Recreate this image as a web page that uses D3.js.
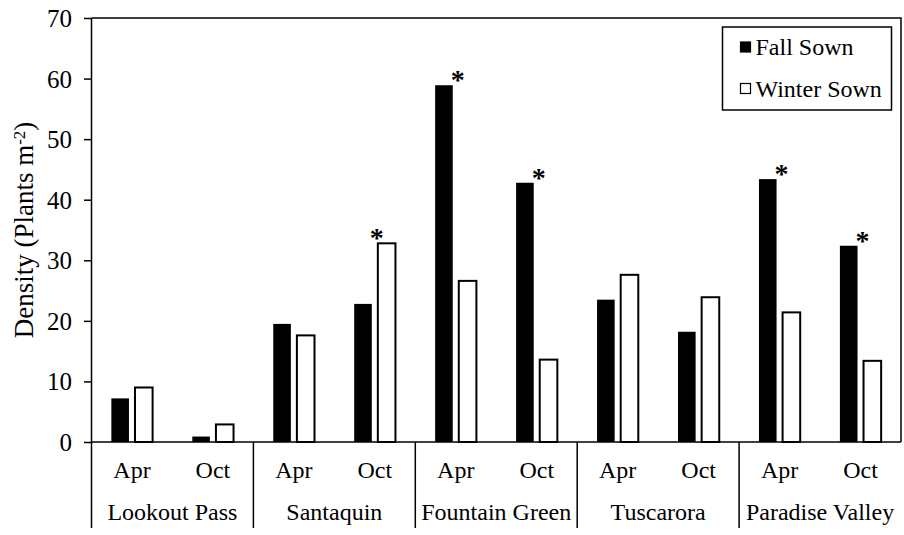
<!DOCTYPE html>
<html>
<head>
<meta charset="utf-8">
<script src="https://cdn.jsdelivr.net/npm/d3@7"></script>
<style>
  body { margin: 0; background: #fff; }
  svg text { font-family: "Liberation Serif", "Times New Roman", serif; fill: #000; }
</style>
</head>
<body>
<div id="chart"></div>
<script>
// values
const sites = ['Lookout Pass', 'Santaquin', 'Fountain Green', 'Tuscarora', 'Paradise Valley'];
const months = ['Apr', 'Oct'];
const fallSown   = [7.2, 0.9, 19.5, 22.8, 58.9, 42.8, 23.5, 18.2, 43.4, 32.4];
const winterSown = [9.0, 2.9, 17.6, 32.8, 26.6, 13.6, 27.6, 23.9, 21.4, 13.4];
// which bar carries the asterisk (null = none)
const marked = [null, null, null, 'winter', 'fall', 'fall', null, null, 'fall', 'fall'];
const seriesNames = ['Fall Sown', 'Winter Sown'];
const yTicks = [0, 10, 20, 30, 40, 50, 60, 70];

const width = 904, height = 535;
const margin = {top: 18, right: 3, bottom: 93, left: 91.5};
const innerW = width - margin.left - margin.right;
const innerH = height - margin.top - margin.bottom;
const FONT = '"Liberation Serif", "Times New Roman", serif';

const rows = [];
sites.forEach((s, i) => months.forEach((m, j) => {
  const k = i * 2 + j;
  rows.push({key: s + '|' + m, site: s, month: m, fall: fallSown[k], winter: winterSown[k], mark: marked[k]});
}));

const svg = d3.select('#chart').append('svg')
  .attr('width', width)
  .attr('height', height)
  .attr('font-family', FONT);
const g = svg.append('g').attr('transform', `translate(${margin.left}, ${margin.top})`);

const x0 = d3.scaleBand().domain(rows.map(d => d.key)).range([0, innerW]);
const x1 = d3.scaleBand().domain(['fall', 'winter']).range([0, x0.bandwidth()])
  .paddingInner(0.255).paddingOuter(0.84);
const xSite = d3.scaleBand().domain(sites).range([0, innerW]);
const y = d3.scaleLinear().domain([0, 70]).range([innerH, 0]);

// bars
const grp = g.selectAll('g.cat').data(rows).enter().append('g')
  .attr('class', 'cat')
  .attr('transform', d => `translate(${x0(d.key)}, 0)`);
grp.append('rect')
  .attr('x', x1('fall'))
  .attr('width', x1.bandwidth())
  .attr('y', d => y(d.fall))
  .attr('height', d => innerH - y(d.fall))
  .attr('fill', '#000');
grp.append('rect')
  .attr('x', x1('winter'))
  .attr('width', x1.bandwidth())
  .attr('y', d => y(d.winter))
  .attr('height', d => innerH - y(d.winter))
  .attr('fill', '#fff')
  .attr('stroke', '#000')
  .attr('stroke-width', 2);

// asterisks
grp.filter(d => d.mark).append('text')
  .attr('x', x0.bandwidth() / 2 + 2)
  .attr('y', d => y(d[d.mark]) + 4)
  .attr('text-anchor', 'middle')
  .style('font-family', FONT)
  .style('font-size', '28px')
  .style('font-weight', 'bold')
  .text('*');

// frame: top and right
g.append('path')
  .attr('d', `M0,0H${innerW}V${innerH}`)
  .attr('fill', 'none')
  .attr('stroke', '#000')
  .attr('stroke-width', 1.5);

// y axis
const yAxis = d3.axisLeft(y).tickValues(yTicks).tickSize(7.5).tickPadding(12).tickFormat(d3.format('d'));
const ya = g.append('g').call(yAxis).attr('font-family', FONT);
ya.select('.domain').remove();
ya.selectAll('line').attr('stroke', '#000').attr('stroke-width', 1.5);
ya.selectAll('text').style('font-family', FONT).style('font-size', '25px').attr('dy', '0.34em');

// left axis line, running down through the label area
g.append('line')
  .attr('x1', 0).attr('x2', 0)
  .attr('y1', 0).attr('y2', innerH + 86)
  .attr('stroke', '#000').attr('stroke-width', 1.5);
// baseline
g.append('line')
  .attr('x1', 0).attr('x2', innerW)
  .attr('y1', innerH).attr('y2', innerH)
  .attr('stroke', '#000').attr('stroke-width', 1.5);

// site separators
g.selectAll('line.sep').data(sites.slice(1)).enter().append('line')
  .attr('class', 'sep')
  .attr('x1', d => xSite(d)).attr('x2', d => xSite(d))
  .attr('y1', innerH).attr('y2', innerH + 86)
  .attr('stroke', '#000').attr('stroke-width', 1.5);

// month labels
g.selectAll('text.month').data(rows).enter().append('text')
  .attr('class', 'month')
  .attr('x', d => x0(d.key) + x0.bandwidth() / 2)
  .attr('y', innerH + 36)
  .attr('text-anchor', 'middle')
  .style('font-family', FONT)
  .style('font-size', '24px')
  .text(d => d.month);

// site labels
g.selectAll('text.site').data(sites).enter().append('text')
  .attr('class', 'site')
  .attr('x', d => xSite(d) + xSite.bandwidth() / 2)
  .attr('y', innerH + 78)
  .attr('text-anchor', 'middle')
  .style('font-family', FONT)
  .style('font-size', '24px')
  .text(d => d);

// y title
const title = svg.append('text')
  .attr('transform', `translate(33, ${margin.top + innerH / 2}) rotate(-90)`)
  .attr('text-anchor', 'middle')
  .style('font-family', FONT)
  .style('font-size', '27px');
title.append('tspan').text('Density (Plants m');
title.append('tspan').attr('dy', '-0.45em').style('font-size', '17px').text('-2');
title.append('tspan').attr('dy', '0.3em').text(')');

// legend
const legend = svg.append('g').attr('transform', 'translate(722.5, 27)');
legend.append('rect')
  .attr('width', 169).attr('height', 83)
  .attr('fill', '#fff').attr('stroke', '#000').attr('stroke-width', 1.5);
const items = legend.selectAll('g.item').data(seriesNames).enter().append('g')
  .attr('class', 'item')
  .attr('transform', (d, i) => `translate(18, ${15 + i * 41.5})`);
items.append('rect')
  .attr('width', 10).attr('height', 10)
  .attr('fill', (d, i) => i === 0 ? '#000' : '#fff')
  .attr('stroke', '#000').attr('stroke-width', 1.2);
items.append('text')
  .attr('x', 15).attr('y', 13)
  .style('font-family', FONT)
  .style('font-size', '24px')
  .text(d => d);
</script>
</body>
</html>
